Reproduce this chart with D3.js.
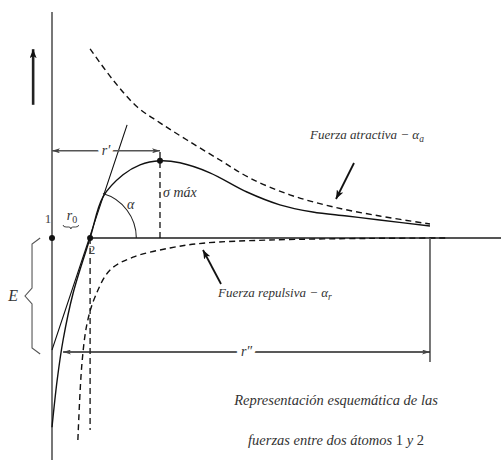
<!DOCTYPE html>
<html>
<head>
<meta charset="utf-8">
<script src="https://cdn.jsdelivr.net/npm/d3@7"></script>
<style>
  html, body { margin: 0; padding: 0; background: #fff; }
  svg { display: block; }
</style>
</head>
<body>
<script>
// Interatomic distance r and force (arbitrary units, positive = attraction plotted upward)
const attractiveForce = [
  [1.03, 4.73], [1.65, 3.95], [2.30, 3.28], [2.92, 2.88], [3.65, 2.45],
  [4.54, 1.95], [5.35, 1.50], [6.43, 1.08], [7.59, 0.78], [8.86, 0.55], [10.22, 0.35]
];
const resultantForce = [
  [0.00, -4.73], [0.14, -3.55], [0.30, -2.55], [0.57, -1.38], [1.03, 0.00],
  [1.38, 1.03], [1.92, 1.58], [2.38, 1.83], [2.92, 1.93], [3.46, 1.88],
  [4.27, 1.63], [5.27, 1.15], [6.16, 0.83], [7.05, 0.65], [7.97, 0.55],
  [8.86, 0.45], [10.22, 0.30]
];
const repulsiveForce = [
  [0.70, -5.05], [0.81, -3.13], [0.95, -2.13], [1.16, -1.48], [1.57, -0.80],
  [2.19, -0.48], [3.19, -0.25], [4.08, -0.13], [5.89, -0.05], [8.59, -0.01], [10.70, 0.00]
];
const tangentLine = [[0.00, -2.80], [2.03, 2.83]];
const atoms = [{ name: "1", r: 0 }, { name: "2", r: 1.03 }];
const r0 = 1.03;
const r0GuideEnd = -4.8;
const rPrime = 2.92;          // distance of maximum force
const sigmaMax = 1.93;        // maximum force
const rDoublePrime = [0.30, 10.22];
const energyDepth = -2.9;     // E
const labels = {
  attractive: ["Fuerza atractiva − α", "a"],
  repulsive: ["Fuerza repulsiva − α", "r"],
  sigma: "σ máx",
  title1: "Representación esquemática de las",
  title2: ["fuerzas entre dos átomos ", "1", " y ", "2"]
};

const W = 501, H = 460;
const x = d3.scaleLinear().domain([0, 12.14]).range([52, 501]);
const y = d3.scaleLinear().domain([-5.55, 5.65]).range([460, 12]);

const svg = d3.select("body").append("svg").attr("width", W).attr("height", H)
  .attr("font-family", "'Liberation Serif', 'Times New Roman', 'DejaVu Serif', serif")
  .attr("font-style", "italic");
const defs = svg.append("defs");

function marker(id, len, wid, color) {
  defs.append("marker")
    .attr("id", id).attr("viewBox", `0 0 ${len} ${wid}`)
    .attr("refX", len).attr("refY", wid / 2)
    .attr("markerWidth", len).attr("markerHeight", wid)
    .attr("markerUnits", "userSpaceOnUse").attr("orient", "auto-start-reverse")
    .append("path")
    .attr("d", `M0,0 L${len},${wid / 2} L0,${wid} L${len * 0.25},${wid / 2} Z`)
    .attr("fill", color);
}
marker("thin", 8, 5, "#444");
marker("bold", 9, 7, "#111");

const line = d3.line().x(d => x(d[0])).y(d => y(d[1])).curve(d3.curveCatmullRom.alpha(0.5));
const straight = d3.line().x(d => x(d[0])).y(d => y(d[1]));

// axes
svg.append("line").attr("x1", x(0)).attr("x2", x(0)).attr("y1", y(5.65)).attr("y2", y(-5.55))
  .attr("stroke", "#555").attr("stroke-width", 1.6);
svg.append("line").attr("x1", x(r0)).attr("x2", x(12.14)).attr("y1", y(0)).attr("y2", y(0))
  .attr("stroke", "#555").attr("stroke-width", 2.2);

// upward arrow
svg.append("line").attr("x1", x(-0.51)).attr("x2", x(-0.51)).attr("y1", y(3.33)).attr("y2", y(4.72))
  .attr("stroke", "#222").attr("stroke-width", 2.6).attr("marker-end", "url(#bold)");

// curves
svg.append("path").datum(attractiveForce).attr("d", line)
  .attr("fill", "none").attr("stroke", "#111").attr("stroke-width", 1.4).attr("stroke-dasharray", "6,4");
svg.append("path").datum(repulsiveForce).attr("d", line)
  .attr("fill", "none").attr("stroke", "#111").attr("stroke-width", 1.4).attr("stroke-dasharray", "6,4");
svg.append("path").datum(resultantForce).attr("d", line)
  .attr("fill", "none").attr("stroke", "#111").attr("stroke-width", 1.4);
svg.append("path").datum(tangentLine).attr("d", straight)
  .attr("fill", "none").attr("stroke", "#111").attr("stroke-width", 1.1);

// vertical dashed guides
svg.append("line").attr("x1", x(r0)).attr("x2", x(r0)).attr("y1", y(0)).attr("y2", y(r0GuideEnd))
  .attr("stroke", "#111").attr("stroke-width", 1.3).attr("stroke-dasharray", "6,4");
svg.append("line").attr("x1", x(rPrime)).attr("x2", x(rPrime)).attr("y1", y(0)).attr("y2", y(2.2))
  .attr("stroke", "#111").attr("stroke-width", 1.3).attr("stroke-dasharray", "6,4");

// end of range
svg.append("line").attr("x1", x(rDoublePrime[1])).attr("x2", x(rDoublePrime[1]))
  .attr("y1", y(0)).attr("y2", y(-3.1)).attr("stroke", "#555").attr("stroke-width", 1.6);

// r' dimension
const yRp = y(2.18);
svg.append("line").attr("x1", x(0)).attr("x2", x(rPrime)).attr("y1", yRp).attr("y2", yRp)
  .attr("stroke", "#555").attr("stroke-width", 1.5)
  .attr("marker-start", "url(#thin)").attr("marker-end", "url(#thin)");
svg.append("text").attr("x", x(rPrime / 2)).attr("y", yRp + 4).attr("text-anchor", "middle")
  .attr("font-size", 14).attr("fill", "#333")
  .attr("stroke", "#fff").attr("stroke-width", 8).attr("paint-order", "stroke")
  .text("r′");

// r'' dimension
const yRpp = y(-2.85);
svg.append("line").attr("x1", x(rDoublePrime[0])).attr("x2", x(rDoublePrime[1])).attr("y1", yRpp).attr("y2", yRpp)
  .attr("stroke", "#222").attr("stroke-width", 1.5)
  .attr("marker-start", "url(#thin)").attr("marker-end", "url(#thin)");
svg.append("text").attr("x", x((rDoublePrime[0] + rDoublePrime[1]) / 2)).attr("y", yRpp + 4)
  .attr("text-anchor", "middle").attr("font-size", 14).attr("fill", "#333")
  .attr("stroke", "#fff").attr("stroke-width", 9).attr("paint-order", "stroke").text("r″");

// angle alpha between axis and tangent at atom 2
const cx = x(r0), cy = y(0);
const tAng = Math.atan2(y(tangentLine[1][1]) - y(tangentLine[0][1]), x(tangentLine[1][0]) - x(tangentLine[0][0]));
const arcR = x(r0 + 1.25) - x(r0);
const ap = d3.path();
ap.moveTo(cx + arcR, cy);
ap.arc(cx, cy, arcR, 0, tAng - 0.04, true);
svg.append("path").attr("d", ap.toString()).attr("fill", "none").attr("stroke", "#222").attr("stroke-width", 1.1);
svg.append("text").attr("x", x(2.03)).attr("y", y(0.72)).attr("font-size", 14).attr("fill", "#333").text("α");

// points
svg.selectAll("circle.atom").data(atoms).join("circle").attr("class", "atom")
  .attr("cx", d => x(d.r)).attr("cy", y(0)).attr("r", 3).attr("fill", "#111");
svg.append("circle").attr("cx", x(rPrime)).attr("cy", y(sigmaMax)).attr("r", 3).attr("fill", "#111");

svg.append("text").attr("x", x(0) - 4).attr("y", y(0) - 15).attr("text-anchor", "middle")
  .attr("font-size", 13).attr("font-style", "normal").attr("fill", "#444").text(atoms[0].name);
svg.append("text").attr("x", x(r0) + 2).attr("y", y(0) + 16).attr("text-anchor", "middle")
  .attr("font-size", 13).attr("font-style", "normal").attr("fill", "#444").text(atoms[1].name);

// r0 with underbrace
const r0g = svg.append("text").attr("x", x(0.54)).attr("y", y(0) - 18).attr("text-anchor", "middle")
  .attr("font-size", 14).attr("fill", "#333");
r0g.append("tspan").text("r");
r0g.append("tspan").attr("font-size", 10).attr("font-style", "normal").attr("dy", 3).text("0");
const bx0 = x(0.3), bx1 = x(0.72), by = y(0) - 11;
const bm = (bx0 + bx1) / 2;
svg.append("path")
  .attr("d", `M${bx0},${by - 2} Q${bx0},${by} ${bx0 + 3},${by} L${bm - 2},${by} Q${bm},${by} ${bm},${by + 2} Q${bm},${by} ${bm + 2},${by} L${bx1 - 3},${by} Q${bx1},${by} ${bx1},${by - 2}`)
  .attr("fill", "none").attr("stroke", "#444").attr("stroke-width", 1);

// sigma max
svg.append("text").attr("x", x(rPrime) + 3).attr("y", y(1.02)).attr("font-size", 14).attr("fill", "#333").text(labels.sigma);

// E brace
const ex0 = x(-0.32), ex1 = x(-0.54), exT = x(-0.73);
const eyT = y(0), eyB = y(energyDepth), eyM = (eyT + eyB) / 2;
svg.append("path")
  .attr("d", `M${ex0},${eyT} L${ex1},${eyT + 6} L${ex1},${eyM - 8} L${exT},${eyM} L${ex1},${eyM + 8} L${ex1},${eyB - 6} L${ex0},${eyB}`)
  .attr("fill", "none").attr("stroke", "#555").attr("stroke-width", 1.1);
svg.append("text").attr("x", x(-1.05)).attr("y", eyM + 5).attr("text-anchor", "middle")
  .attr("font-size", 16).attr("fill", "#333").text("E");

// force labels and pointers
const ta = svg.append("text").attr("x", 310).attr("y", 139).attr("font-size", 13).attr("fill", "#333");
ta.append("tspan").text(labels.attractive[0]);
ta.append("tspan").attr("font-size", 9.5).attr("dy", 3).text(labels.attractive[1]);
svg.append("line").attr("x1", 354).attr("y1", 163).attr("x2", 336).attr("y2", 199)
  .attr("stroke", "#111").attr("stroke-width", 1.8).attr("marker-end", "url(#bold)");

const tr = svg.append("text").attr("x", 218).attr("y", 297).attr("font-size", 13).attr("fill", "#333");
tr.append("tspan").text(labels.repulsive[0]);
tr.append("tspan").attr("font-size", 9.5).attr("dy", 3).text(labels.repulsive[1]);
svg.append("line").attr("x1", 221).attr("y1", 284).attr("x2", 203).attr("y2", 250)
  .attr("stroke", "#111").attr("stroke-width", 1.8).attr("marker-end", "url(#bold)");

// caption
svg.append("text").attr("x", 336).attr("y", 405).attr("text-anchor", "middle")
  .attr("font-size", 14.5).attr("fill", "#333").text(labels.title1);
const t2 = svg.append("text").attr("x", 336).attr("y", 445).attr("text-anchor", "middle")
  .attr("font-size", 14.5).attr("fill", "#333");
labels.title2.forEach((s, i) => t2.append("tspan").attr("font-style", i % 2 ? "normal" : "italic").text(s));
</script>
</body>
</html>
